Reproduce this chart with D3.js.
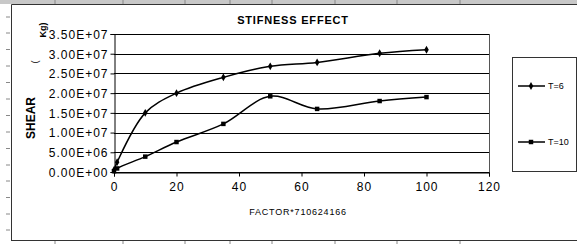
<!DOCTYPE html>
<html>
<head>
<meta charset="utf-8">
<script src="https://cdn.jsdelivr.net/npm/d3@7"></script>
<style>
  body { margin: 0; background: #fff; }
  svg { display: block; font-family: Arial, "Liberation Sans", sans-serif; }
</style>
</head>
<body>
<svg id="chart" width="577" height="244"></svg>
<script>
// stiffness factor values (x)
const factors = [0, 1, 10, 20, 35, 50, 65, 85, 100];
// shear for each series
const shearT6 = [5e5, 2.5e6, 1.5e7, 2.0e7, 2.4e7, 2.68e7, 2.78e7, 3.01e7, 3.1e7];
const shearT10 = [2e5, 9e5, 3.9e6, 7.6e6, 1.22e7, 1.92e7, 1.6e7, 1.8e7, 1.9e7];
const seriesNames = ["T=6", "T=10"];
const yTicks = [0, 5e6, 1e7, 1.5e7, 2e7, 2.5e7, 3e7, 3.5e7];
const xTicks = [0, 20, 40, 60, 80, 100, 120];
// spreadsheet column edges / row edges seen behind the chart
const sheetCols = [55, 123, 185, 230, 272, 335, 397, 460];
const sheetRows = [17, 33, 49.5, 66, 82.5, 99, 115.5, 132, 148.5, 165, 181, 197.5, 214, 230];

const svg = d3.select("#chart");

// sheet background bits
svg.append("rect").attr("x", 0).attr("y", 0).attr("width", 577).attr("height", 4).attr("fill", "#c8c8c8");
svg.selectAll("line.col").data(sheetCols).join("line")
  .attr("x1", d => d).attr("x2", d => d).attr("y1", 0).attr("y2", 4)
  .attr("stroke", "#888");
svg.selectAll("line.colb").data(sheetCols).join("line")
  .attr("x1", d => d).attr("x2", d => d).attr("y1", 241).attr("y2", 244)
  .attr("stroke", "#888");
svg.selectAll("line.row").data(sheetRows).join("line")
  .attr("x1", 6).attr("x2", 10).attr("y1", d => d).attr("y2", d => d)
  .attr("stroke", "#888");
// chart area border
svg.append("path").attr("d", "M11.5,240.5V4.5H577").attr("fill", "none").attr("stroke", "#333");
svg.append("line").attr("x1", 11).attr("x2", 577).attr("y1", 240.5).attr("y2", 240.5).attr("stroke", "#333");

const x = d3.scaleLinear().domain([0, 120]).range([114, 489]);
const y = d3.scaleLinear().domain([0, 3.5e7]).range([172, 34]);

const g = svg.append("g");

// gridlines
g.selectAll("line.grid").data(yTicks).join("line")
  .attr("x1", x(0)).attr("x2", x(120))
  .attr("y1", d => Math.round(y(d)) + 0.5).attr("y2", d => Math.round(y(d)) + 0.5)
  .attr("stroke", "#000");
g.append("line").attr("x1", x(120) + 0.5).attr("x2", x(120) + 0.5).attr("y1", y(3.5e7)).attr("y2", y(0) + 4)
  .attr("stroke", "#555");

// y axis, Excel style scientific labels
const sci = d => {
  const e = d === 0 ? 0 : Math.floor(Math.log10(d));
  const m = d === 0 ? 0 : d / Math.pow(10, e);
  return m.toFixed(2) + "E+" + String(e).padStart(2, "0");
};
const yAxis = d3.axisLeft(y).tickValues(yTicks).tickSize(4).tickPadding(2).tickFormat(sci);
const ya = g.append("g").attr("transform", `translate(${x(0) + 0.5},0)`).call(yAxis);
// x axis
const xAxis = d3.axisBottom(x).tickValues(xTicks).tickSize(4).tickPadding(6);
const xa = g.append("g").attr("transform", `translate(0,${Math.round(y(0)) + 0.5})`).call(xAxis);
[ya, xa].forEach(a => {
  a.select(".domain").attr("stroke", "#000");
  a.selectAll(".tick line").attr("stroke", "#000");
  a.selectAll("text").attr("fill", "#000").style("font-size", "12px").style("letter-spacing", "1px")
    .style("font-family", "Arial, 'Liberation Sans', sans-serif");
});
ya.selectAll("text").attr("dy", "0.36em");

// series lines
const line = d3.line().curve(d3.curveCatmullRom.alpha(0.5))
  .x(d => x(d[0])).y(d => y(d[1]));
const s6 = factors.map((f, i) => [f, shearT6[i]]);
const s10 = factors.map((f, i) => [f, shearT10[i]]);
g.append("path").datum(s6).attr("d", line).attr("fill", "none").attr("stroke", "#000").attr("stroke-width", 1.5);
g.append("path").datum(s10).attr("d", line).attr("fill", "none").attr("stroke", "#000").attr("stroke-width", 1.5);

const diamond = d3.symbol().type(d3.symbolDiamond).size(18);
const square = d3.symbol().type(d3.symbolSquare).size(20);
g.selectAll("path.m6").data(s6).join("path")
  .attr("transform", d => `translate(${x(d[0])},${y(d[1])})`).attr("d", diamond).attr("fill", "#000");
g.selectAll("path.m10").data(s10).join("path")
  .attr("transform", d => `translate(${x(d[0])},${y(d[1])})`).attr("d", square).attr("fill", "#000");

// titles
svg.append("text").attr("x", 293).attr("y", 24).attr("text-anchor", "middle")
  .attr("font-size", 11).attr("font-weight", "bold").attr("letter-spacing", "0.8px").text("STIFNESS EFFECT");
svg.append("text").attr("x", 298).attr("y", 215).attr("text-anchor", "middle")
  .attr("font-size", 9).attr("letter-spacing", "0.8px").text("FACTOR*710624166");
svg.append("text").attr("transform", "translate(35,118) rotate(-90)").attr("text-anchor", "middle")
  .attr("font-size", 12).attr("font-weight", "bold").text("SHEAR");
svg.append("text").attr("transform", "translate(38,62) rotate(-90)").attr("text-anchor", "middle")
  .attr("font-size", 9).text("(");
svg.append("text").attr("transform", "translate(46,30) rotate(-90)").attr("text-anchor", "middle")
  .attr("font-size", 9).attr("font-weight", "bold").text("Kg)");

// legend
const lg = svg.append("g");
lg.append("rect").attr("x", 512.5).attr("y", 57.5).attr("width", 64).attr("height", 114)
  .attr("fill", "#fff").attr("stroke", "#333");
const legY = [86, 142];
const syms = [diamond, square];
seriesNames.forEach((n, i) => {
  lg.append("line").attr("x1", 518).attr("x2", 545).attr("y1", legY[i]).attr("y2", legY[i])
    .attr("stroke", "#000").attr("stroke-width", 1.5);
  lg.append("path").attr("transform", `translate(531,${legY[i]})`).attr("d", syms[i]).attr("fill", "#000");
  lg.append("text").attr("x", 548).attr("y", legY[i]).attr("dy", "0.35em")
    .attr("font-size", 9).text(n);
});
</script>
</body>
</html>
